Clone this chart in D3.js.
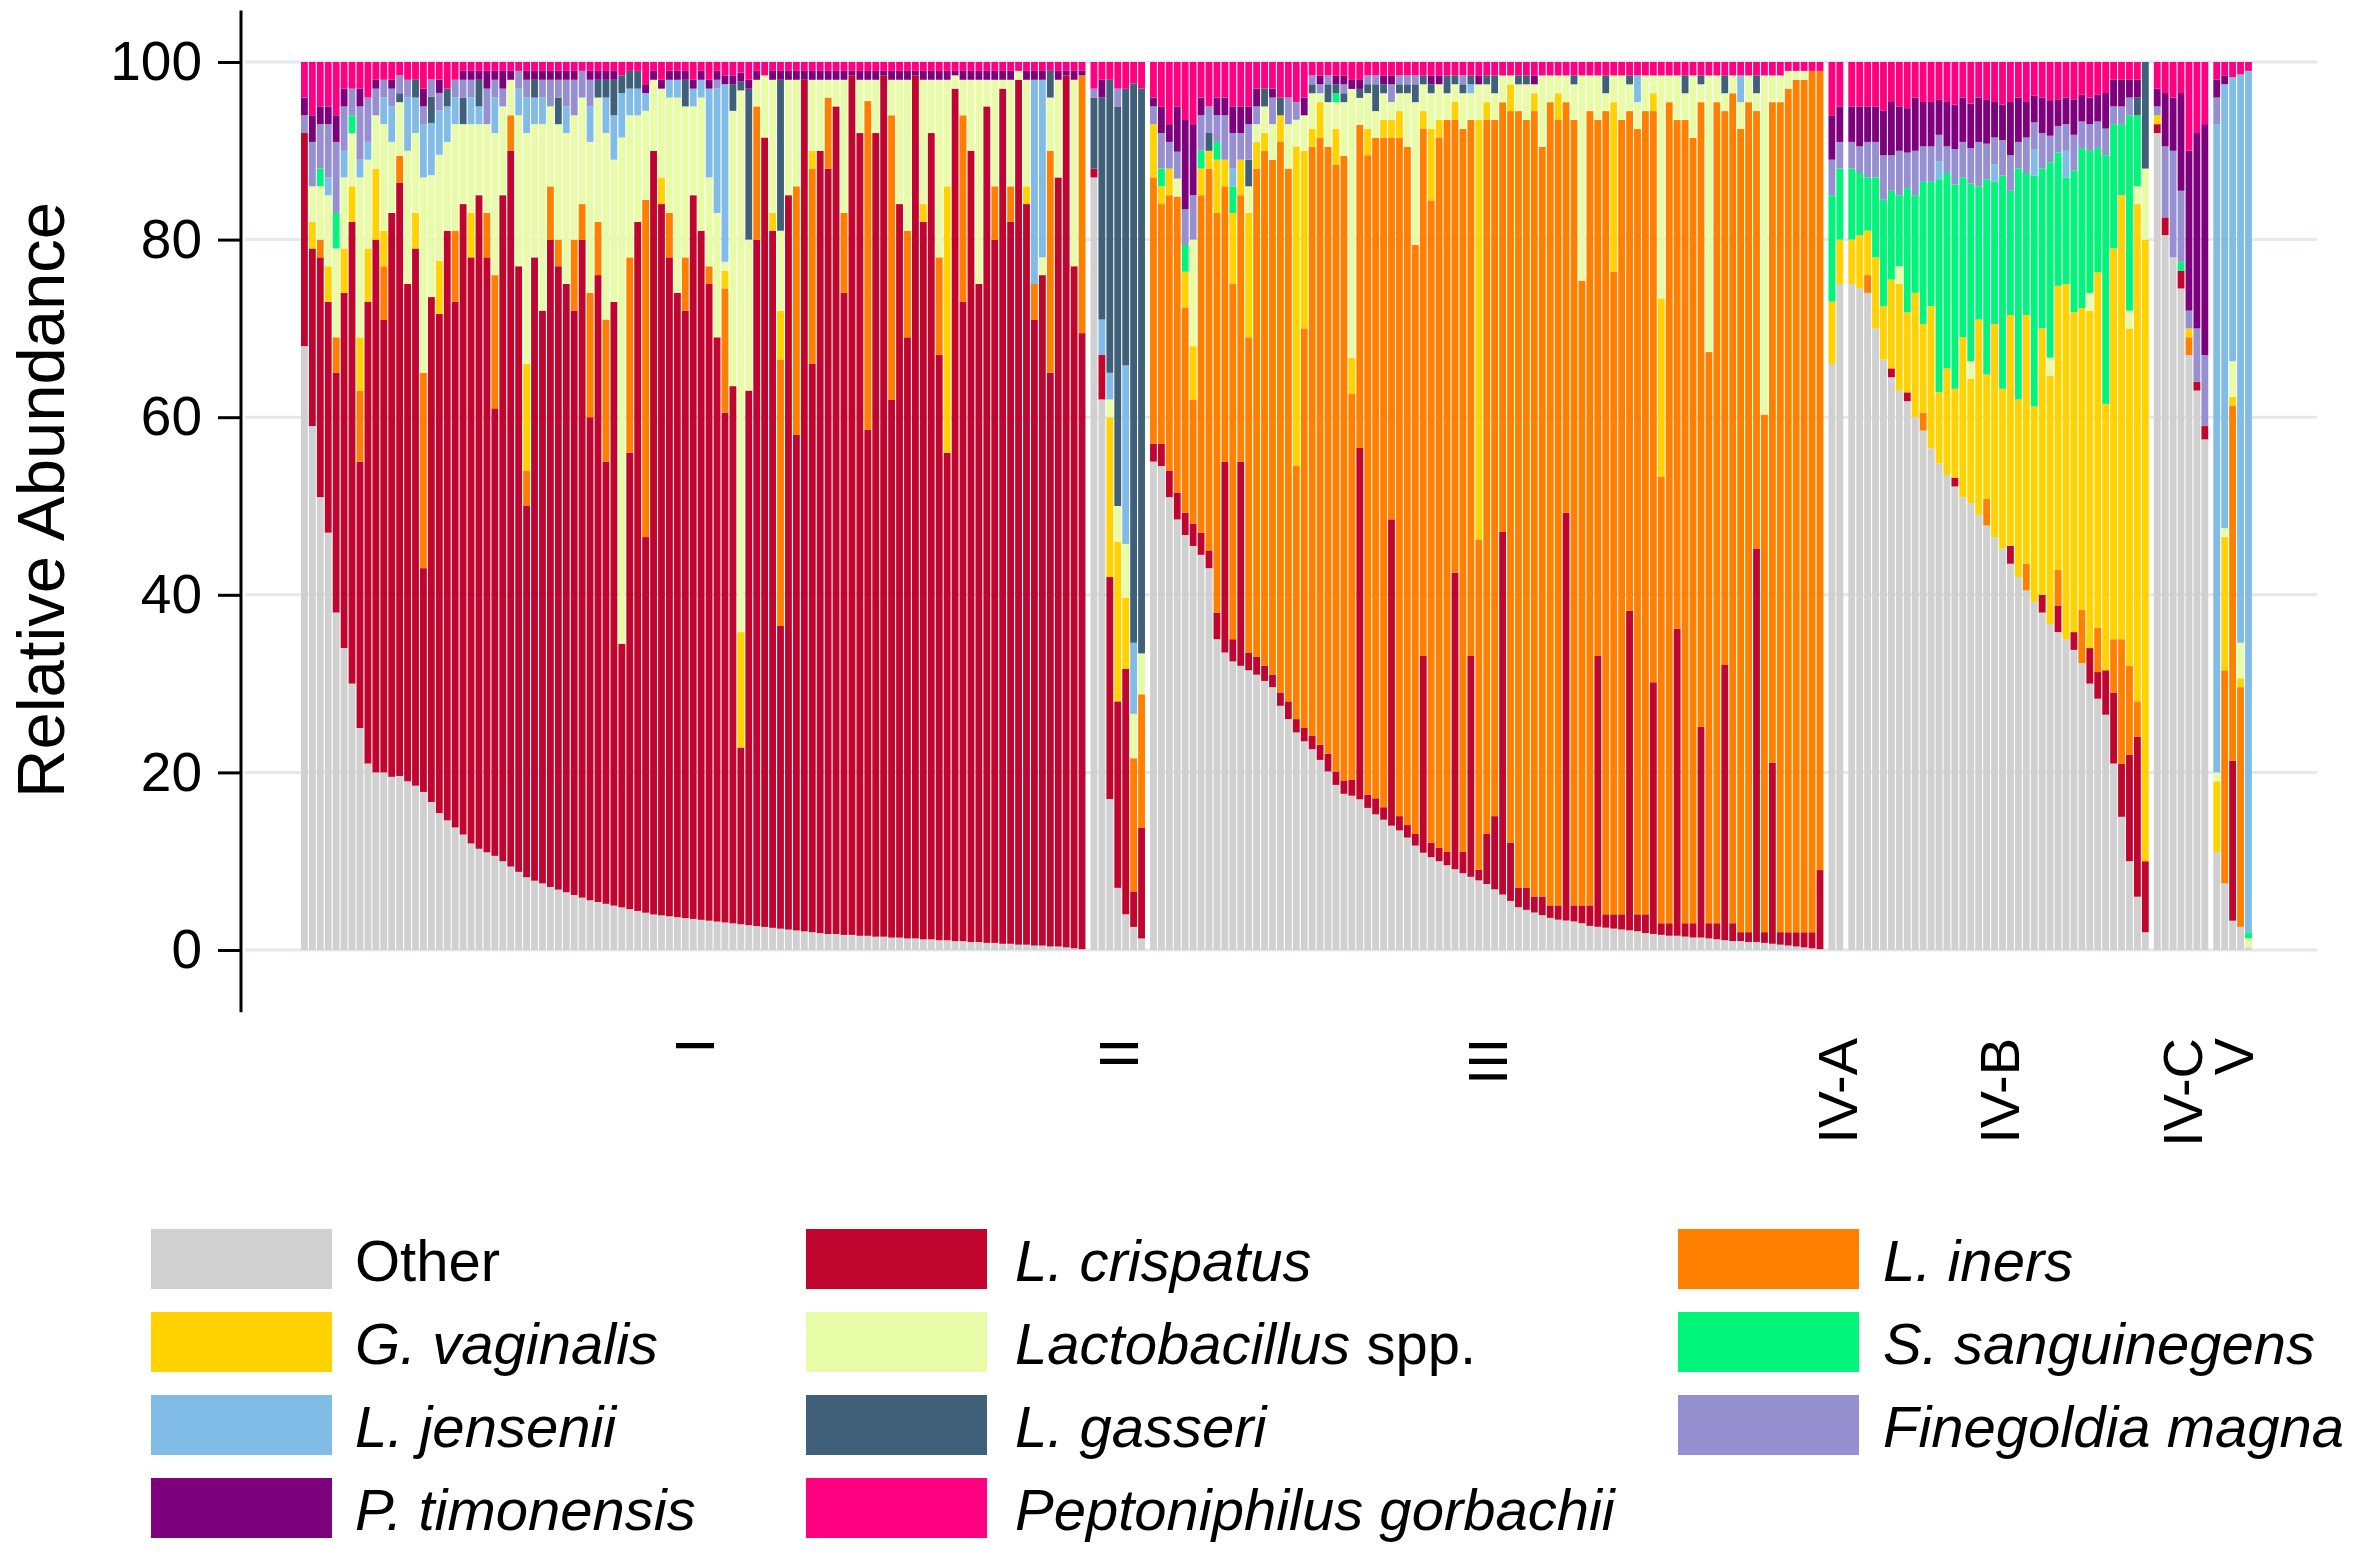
<!DOCTYPE html>
<meta charset="utf-8">
<style>
  html, body { margin: 0; padding: 0; background: #ffffff; }
  body { font-family: 'Liberation Sans', Arial, sans-serif; }
  svg text { font-family: 'Liberation Sans', Arial, sans-serif; fill: #000; }
</style>
<script src="https://d3js.org/d3.v7.min.js"></script>
<div id="chart"></div>
<script>
// stack order, bottom -> top
var speciesKeys = ["oth", "cri", "ine", "gva", "lsp", "ssa", "jen", "gas", "fma", "pti", "pgo"];
var speciesColors = ["#d0d0d0", "#c0062f", "#ff8000", "#ffd200", "#e8fca8", "#00f57a",
                     "#80bce6", "#3f6078", "#968fd0", "#7d007d", "#ff0080"];

// legend: [key, italic part, plain part] listed column by column
var legendCols = [
  [["oth", "", "Other"], ["gva", "G. vaginalis", ""], ["jen", "L. jensenii", ""], ["pti", "P. timonensis", ""]],
  [["cri", "L. crispatus", ""], ["lsp", "Lactobacillus", " spp."], ["gas", "L. gasseri", ""], ["pgo", "Peptoniphilus gorbachii", ""]],
  [["ine", "L. iners", ""], ["ssa", "S. sanguinegens", ""], ["fma", "Finegoldia magna", ""]]
];

var groupNames = ["I", "II", "III", "IV-A", "IV-B", "IV-C", "V"];
var yTicks = [0, 20, 40, 60, 80, 100];

// each row is one sample: oth, cri, ine, gva, lsp, ssa, jen, gas, fma, pti, pgo
var barsI = [
[68,24,0,0,0,0,0,0,2,2,4],[59,20,0,3,4,0,0,0,5,3,6],[51,27,2,0,6,2,0,0,5,2,5],[47,26,0,4,8,0,2,0,6,2,5],
[38,27,4,0,10,4,0,0,8,3,6],[34,40,0,5,8,0,3,0,5,2,3],[30,52,0,4,6,2,0,0,3,0,3],[25,30,8,6,18,0,2,0,6,2,3],
[21,52,0,6,10,0,2,0,5,0,4],[20,60,0,8,6,0,0,0,3,1,2],[20,51,6,4,12,0,3,0,2,0,2],[19.5,63.5,0,0,8,0,4,0,2,1,2],
[19.5,66.5,3,0,6,0,0,1,2,0,1.5],[19,56,0,0,15,0,6,0,2,0,2],[18.5,60.5,0,4,9,0,4,2,0,0,2],[17.8,25.2,22,0,22,0,6,0,2,2,3],
[17,58,0,0,14,0,6,3,2,0,2],[15.5,56.5,0,6,12,0,5,0,2,1.5,2],[14.6,66.4,0,0,10,0,4,2,0,0,3],[13.8,59.2,8,0,12,0,3,0,2,0,2],
[13,71,0,0,9,0,0,3,2,1,1],[12,66,0,5,10,0,3,0,2,1,1],[11.4,73.6,0,0,8,0,2,3,0,1,1],[11,67,5,0,10,0,0,0,4,2,1],
[10.6,50.4,15,0,16,0,4,0,2,1,1],[10,75,0,0,10,0,0,0,2,2,1],[9.4,80.6,4,0,4,0,0,0,0,1,1],[8.8,68.2,0,0,17,0,3,0,2,0,1],
[8.2,41.8,4,12,26,0,4,0,2,1,1],[7.8,70.2,0,0,15,0,3,2,0,1,1],[7.5,64.5,0,0,21,0,3,0,2,1,1],[7.1,72.9,6,0,9,0,0,0,3,1,1],
[6.8,70.2,3,0,13,0,0,3,2,1,1],[6.5,68.5,0,0,17,0,3,0,3,1,1],[6.2,65.8,8,0,14,0,0,0,4,1,1],[5.9,74.1,4,0,12,0,0,0,3,0,1],
[5.6,54.4,14,0,17,0,4,0,3,1,1],[5.4,70.6,6,0,14,0,0,2,0,1,1],[5.2,49.8,16,0,21,0,4,2,0,1,1],[5,68,0,0,16,0,5,4,0,1,1],
[4.8,29.7,0,0,57,0,5,2,0,0,1.5],[4.6,51.4,22,0,16,0,3,2,0,0,1],[4.4,77.6,0,0,12,0,3,2,0,0,1],[4.2,42.3,38,0,10,0,2,0,0,1,2.5],
[4,86,0,0,8,0,0,0,0,1,1],[3.9,80.1,0,3,10,0,0,0,0,1,2],[3.8,74.2,5,0,13,0,2,0,0,1,1],[3.7,70.3,0,0,22,0,2,0,0,1,1],
[3.6,68.4,6,0,17,0,0,3,0,1,1],[3.5,81.5,0,0,10,0,2,0,0,1,2],[3.4,77.6,0,0,15,0,2,0,0,1,1],[3.3,71.7,2,0,10,0,10,0,0,1,2],
[3.2,65.8,0,0,14,0,14,0,1,1,1],[3.1,57.4,14,2,1,0,20,0,0,1,1.5],[3,60.5,0,0,31,0,0,3,0,1,1.5],[2.9,19.9,0,13,61,0,0,1,0,1,1.2],
[2.8,60.2,0,0,17,0,0,17,0,1,2],[2.7,77.3,15,0,3,0,0,0,0,1,1],[2.6,88.9,0,0,7,0,0,0,0,0,1.5],[2.5,78.5,0,2,15,0,0,0,0,1,1],
[2.4,34.1,30,5.5,9,0,0,17,0,1,1],[2.3,82.7,0,0,13,0,0,0,0,1,1],[2.2,55.8,28,0,12,0,0,0,0,1,1],[2.1,95.9,0,0,0,0,0,0,0,1,1],
[2,64,22,2,8,0,0,0,0,1,1],[1.9,88.1,0,0,8,0,0,0,0,1,1],[1.8,86.2,8,0,2,0,0,0,0,1,1],[1.8,93.2,0,0,3,0,0,0,0,1,1],
[1.7,72.3,9,0,15,0,0,0,0,1,1],[1.7,96.8,0,0,0,0,0,0,0,0.5,1],[1.6,90.4,0,0,6,0,0,0,0,1,1],[1.6,57,37,0,2.4,0,0,0,0,1,1],
[1.5,90.5,0,0,6,0,0,0,0,1,1],[1.5,97,0,0,0,0,0,0,0,0.5,1],[1.4,60.6,32,0,4,0,0,0,0,1,1],[1.4,82.6,0,0,14,0,0,0,0,1,1],
[1.3,67.7,12,0,17,0,0,0,0,1,1],[1.3,97.2,0,0,0,0,0,0,0,0.5,1],[1.2,80.8,0,2,14,0,0,0,0,1,1],[1.2,90.8,0,0,6,0,0,0,0,1,1],
[1.1,65.9,11,0,20,0,0,0,0,1,1],[1.1,54.9,0,30,12,0,0,0,0,1,1],[1,96,0,0,1.5,0,0,0,0,0.5,1],[1,72,21,0,4,0,0,0,0,1,1],
[0.9,89.1,0,0,8,0,0,0,0,1,1],[0.9,74.1,0,0,23,0,0,0,0,1,1],[0.8,94.2,0,0,3,0,0,0,0,1,1],[0.8,79.2,6,0,12,0,0,0,0,1,1],
[0.7,96.3,0,0,1,0,0,0,0,1,1],[0.7,81.3,4,0,12,0,0,0,0,1,1],[0.6,97.4,0,0,1,0,0,0,0,0,1],[0.6,83.4,0,2,12,0,0,0,0,1,1],
[0.5,70.5,4,0,0,0,23,0,0,1,1],[0.5,75.5,0,0,2,0,20,0,0,1,1],[0.4,64.6,25,0,6,0,0,3,0,0,1],[0.4,86.6,0,0,11,0,0,0,0,1,1],
[0.3,98.2,0,0,0,0,0,0,0,0.5,1],[0.2,76.8,0,0,21,0,0,0,0,1,1],[0.1,69.3,29,0,0,0,0,0,0,0.5,1]
];

var barsII = [
[87,1,0,0,0,0,0,8,1,0,3],[62,5,0,0,0,0,4,25,0,2,2],[17,25,0,18,2,0,3,33,0,0,2],[7,21,0,18,4,0,0,45,2,0,3],
[4,27.5,0,8,6,0,20,31,0,0,3],[2.6,4,15,0,5,0,8,63,0,0,2.4],[1.3,12.5,15,0,4.6,0,0,63.6,0,0,3]
];

var barsIII = [
[55,2,30,6,0,0,0,0,2,1,4],[54.5,2.5,27,2,0,2,0,0,4,3,5],[51,3,31,3,0,0,0,0,3,2,7],[48,3,33,0,2,0,0,0,3,5,5],
[46.5,2.5,23,4,0,3,0,0,4,10,6.5],[45.5,2.5,14,6,12,0,0,0,5,8,7],[44.5,2.5,38,3,0,2,0,0,4,2,4],[43,2,43,2,0,0,0,2,3,0,5],
[35,3,45,6,0,2,0,0,3,2,4],[33.5,21.5,31,3,0,0,0,0,5,2,4],[32.5,2.5,40,8,0,3,2,0,4,3,5],[32,23,30,4,0,0,0,0,3,3,5],
[31.5,2,35.5,14,3,0,0,3,4,2,5],[31,2,55,3,2,0,0,0,2,2,3],[30.3,1.7,58,2,3,0,0,2,0,0,3],[29.6,1.4,58,0,4,0,0,0,3,1,3],
[27.5,1.5,62,3,0,0,0,2,0,0,4],[26,2,60,0,5,0,0,0,3,0,4],[24.5,1.5,28.5,36,3,0,0,0,2,0,4.5],[23.5,1.5,45,20,4,0,0,0,0,2,4],
[22.5,1.5,66,2,4,0,0,1,1,0,1.5],[21.3,1.7,68,4,1,0,0,0,1,1,1.5],[20,2,68,0,5,0,0,2,1,0,1.5],[18.5,1.5,68,4,3,1,0,1,0,1,1.5],
[17.5,1.5,70,0,6,0,0,1,1,1,1.5],[17.2,1.8,43,4,30,0,0,0,0,1,2],[16.8,39.2,36,0,3,0,0,1,0,1,2],[16,1.5,72,3,4,0,0,1,1,0,1.5],
[15.2,1.8,74,0,3,0,0,3,1,0,1.5],[14.6,1.4,75,2,3,0,0,1,0,1,1.5],[14,34.5,43,2,2,0,0,0,2,1,1.5],[13.4,1.6,76,3,2,0,0,1,1,0,1.5],
[12.6,1.4,76,0,6,0,0,1,1,0,1.5],[11.7,1.3,66,0,16,0,0,2,1,0,1.5],[10.9,22.1,59,2,3,0,0,1,0,0,1.5],[10.4,1.6,72,8,4,0,0,1,0,1,1.5],
[10,1.5,80,2,4,0,0,0,0,1,1.5],[9.5,1.5,82,0,3,0,0,2,0,0,1.5],[9.1,33.4,51,2,2,0,0,1,0,0,1.5],[8.6,2.4,81,0,4,0,0,1,1,0,1.5],
[8.2,24.8,60,0,3,0,1,1,0,0,1.5],[7.8,1.2,37,47,4,0,0,0,0,1,1.5],[7.4,5.6,80,2,2,0,0,1,0,0,1.5],[6.8,8.2,78,0,3,0,0,2,0,0,1.5],
[6.2,40.6,48,0,3,0,0,0,0,0,1.5],[5.5,6.5,82,3,1,0,0,0,0,0,1.5],[4.8,2.2,87,0,3,0,0,1,0,0,1.5],[4.5,2.5,86,0,4,0,0,1,0,0,1.5],
[4.2,1.8,88,2,1,0,0,0,0,1,1.5],[3.9,2.1,84,0,8,0,0,0,0,0,1.5],[3.6,1.4,90,0,3,0,0,0,0,0,1.5],[3.4,1.6,88,3,2,0,0,0,0,0,1.5],
[3.3,45.7,46,0,3,0,0,0,0,0,1.5],[3.2,1.8,88,0,4,0,0,1,0,0,1.5],[3,2,70,0,23,0,0,0,0,0,1.5],[2.7,2.3,89,0,4,0,0,0,0,0,1.5],
[2.6,30.4,60,0,5,0,0,0,0,0,1.5],[2.5,1.5,90,0,2,0,0,2,0,0,1.5],[2.4,1.6,72,19,3,0,0,0,0,0,1.5],[2.3,1.7,89,0,5,0,0,0,0,0,1.5],
[2.2,35.8,56,0,3,0,0,1,0,0,1.5],[2.1,1.9,88,0,3,0,3,0,0,0,1.5],[1.9,2.1,90,0,4,0,0,0,0,0,1.5],[1.8,28.2,64,2,2,0,0,0,0,0,1.5],
[1.7,1.3,50,20,25,0,0,0,0,0,1.5],[1.6,1.4,92,0,3,0,0,0,0,0,1.5],[1.6,34.4,57,0,5,0,0,0,0,0,1.5],[1.5,1.5,90,0,3,0,0,2,0,0,1.5],
[1.4,1.6,88,0,7,0,0,0,0,0,1.5],[1.4,23.6,70,0,2,0,0,1,0,0,1.5],[1.3,1.7,64,0,31,0,0,0,0,0,1.5],[1.2,1.8,92,0,3,0,0,0,0,0,1.5],
[1.1,30.9,62,0,2,0,0,2,0,0,1.5],[1,2,93,0,2,0,0,0,0,0,1.5],[1,1,90,0,3,0,3,0,0,0,1.5],[0.9,1.1,93,0,3,0,0,0,0,0,1.5],
[0.9,44.1,49,0,2,0,0,2,0,0,1.5],[0.8,1.2,58,0,38,0,0,0,0,0,1.5],[0.7,20.3,74,0,3,0,0,0,0,0,1.5],[0.6,1.4,93,0,3,0,0,0,0,0,1.5],
[0.5,1.5,95,0,2,0,0,0,0,0,1],[0.4,1.6,96,0,1,0,0,0,0,0,1],[0.3,1.7,96,0,1,0,0,0,0,0,1],[0.2,1.8,97,0,0,0,0,0,0,0,1],
[0.1,8.9,90,0,0,0,0,0,0,0,1]
];

var barsIVA = [
[66,0,0,7,0,12,0,0,4,5,6],[75,0,0,5,0,8,0,0,3,4,5]
];

var barsIVB = [
[75,0,0,5,0,8,0,0,3,4,5],[74.5,0,0,6,0,7,0,0,3,4.5,5],[74,0,2,5,0,6,0,0,4,4,5],[70,0,0,8,0,9,0,0,4,4,5],
[66.5,0,0,6,0,12,0,0,5,5,5.5],[64.5,1,0,10,0,10,0,0,4,6,4.5],[63,0,0,12,2,8,0,0,5,5,5],[61.8,1,0,9,0,14,0,0,4,5,5.2],
[60,0,0,14,0,11,0,0,5,6,4],[58.5,0,2,10,0,16,0,0,4,5,4.5],[56.5,0,0,16,0,14,0,0,4,5,4.5],[54.8,0,0,8,0,24,2,0,3,4,4.2],
[53.5,0,0,12,0,22,0,0,3,5,4.5],[52.2,1,0,10,0,23,0,0,4,5,4.8],[51,0,0,18,0,18,0,0,4,5,4],[50.3,0,0,14,2,20,0,0,4,5,4.7],
[49,0,0,22,0,15,0,0,5,5,4],[47.8,0,3,14,0,22,0,0,4,5,4.2],[46.5,0,0,24,0,16,2,0,3,4,4.5],[45.2,0,0,18,0,24,0,0,4,4,4.8],
[43.5,2,0,26,0,14,0,0,4,6,4.5],[42,0,0,20,0,26,0,0,3,5,4],[40.5,0,3,28,0,16,0,0,4,4,4.5],[39.2,0,0,22,0,26,3,0,3,3,3.8],
[38,2,0,30,0,18,0,0,4,4,4],[36.7,0,0,28,2,22,0,0,3,4,4.3],[35.8,3,4,32,0,15,0,0,3,3,4.2],[35,0,0,40,0,12,3,0,3,3,4],
[33.8,2,0,36,0,16,0,0,4,4,4.2],[32.3,0,6,34,0,18,0,0,3,3,3.7],[30,4,0,38,2,16,0,0,3,3,4],[28.3,3,5,40,0,14,0,0,3,3,3.7],
[26.5,5,0,30,0,28,0,0,3,4,3.5],[21,8,6,44,0,14,0,0,2,3,2],[15,6,14,50,0,8,0,0,2,3,2],[10,12,10,38,2,22,0,0,2,2,2],
[6,18,4,56,2,8,0,2,0,2,2],[2,8,0,70,8,0,0,12,0,0,0]
];

var barsIVC = [
[92,1,0,1,0,0,0,0,1,2,3],[80.5,2,0,0,0,0,0,0,8,6,3.5],[78,0,0,0,0,0,0,0,12,6,4],[74.5,2,0,0,0,1,0,0,8,11,3.5],
[67,0,2,1,0,0,0,0,2,18,10],[63,1,0,0,0,0,0,0,6,22,8],[57.5,1.5,0,0,0,0,0,0,8,26,7]
];

var barsV = [
[11,0,0,8,1,0,73,0,3,2,2],[7.5,0,24,15,1,0,50,0,0,1,1.5],[3.3,18,40,1,4,0,32,0,0,0,1.7],
[2.6,0,27,1,4,0,64,0,0,0,1.4],[0.3,0,0,0,1,0.7,97,0,0,0,1]
];

var groupRows = [barsI, barsII, barsIII, barsIVA, barsIVB, barsIVC, barsV];

var width = 2362, height = 1568;
var gapUnits = 0.5;   // white gap between cluster groups, in bar widths

var svg = d3.select("#chart").append("svg")
  .attr("width", width)
  .attr("height", height)
  .style("display", "block");

// lay bars out one after the other, with a small gap between groups
var bars = [], groups = [], pos = 0;
groupRows.forEach(function(rows, gi) {
  if (gi > 0) pos += gapUnits;
  var g = { name: groupNames[gi], start: pos };
  rows.forEach(function(r) {
    bars.push({ group: gi, pos: pos, values: r });
    pos += 1;
  });
  g.end = pos;
  groups.push(g);
});

var x = d3.scaleLinear().domain([0, pos]).range([301, 2253]);
var y = d3.scaleLinear().domain([0, 100]).range([950, 62]);
var yFrac = d3.scaleLinear().domain([0, 1]).range([950, 62]);
var color = d3.scaleOrdinal().domain(speciesKeys).range(speciesColors);

// gridlines
svg.append("g")
  .selectAll("line")
  .data(yTicks)
  .enter().append("line")
    .attr("x1", 245)
    .attr("x2", 2317)
    .attr("y1", function(d) { return y(d); })
    .attr("y2", function(d) { return y(d); })
    .style("stroke", "#e2e9ed")
    .style("stroke-width", 3);

// stacked bars, each sample expanded to 100%
var stack = d3.stack()
  .keys(d3.range(speciesKeys.length))
  .value(function(d, k) { return d.values[k]; })
  .offset(d3.stackOffsetExpand);

var layers = stack(bars);
var barW = x(1) - x(0) - 1.1;

svg.append("g")
  .selectAll("g")
  .data(layers)
  .enter().append("g")
    .style("fill", function(d) { return color(speciesKeys[d.key]); })
  .selectAll("rect")
  .data(function(d) { return d; })
  .enter().append("rect")
    .attr("x", function(d) { return x(d.data.pos); })
    .attr("width", barW)
    .attr("y", function(d) { return yFrac(d[1]); })
    .attr("height", function(d) { return Math.max(0, yFrac(d[0]) - yFrac(d[1])); });

// y axis
var yAxis = d3.axisLeft(y)
  .tickValues(yTicks)
  .tickSize(23)
  .tickPadding(16);

var gy = svg.append("g")
  .attr("transform", "translate(241,0)")
  .call(yAxis);
gy.select(".domain").remove();
gy.selectAll(".tick line").style("stroke", "#000").style("stroke-width", 3);
gy.selectAll(".tick text")
  .style("font-size", "55px")
  .style("font-family", "'Liberation Sans', Arial, sans-serif")
  .style("fill", "#000");

svg.append("line")
  .attr("x1", 241).attr("x2", 241)
  .attr("y1", y(105.8)).attr("y2", y(-7))
  .style("stroke", "#000")
  .style("stroke-width", 3);

svg.append("text")
  .attr("transform", "translate(64,500) rotate(-90)")
  .attr("text-anchor", "middle")
  .style("font-size", "67px")
  .text("Relative Abundance");

// group labels, rotated
svg.append("g")
  .selectAll("text")
  .data(groups)
  .enter().append("text")
    .attr("transform", function(d) {
      return "translate(" + x((d.start + d.end) / 2) + ",1038) rotate(-90)";
    })
    .attr("text-anchor", "end")
    .attr("dy", "0.36em")
    .style("font-size", "56px")
    .text(function(d) { return d.name; });

// legend
var colSwatchX = [151, 806, 1678],
    colTextX = [355, 1015, 1883],
    rowTop = 1229, rowStep = 83;

legendCols.forEach(function(col, ci) {
  var items = svg.append("g")
    .selectAll("g")
    .data(col)
    .enter().append("g")
      .attr("transform", function(d, i) { return "translate(0," + (rowTop + i * rowStep) + ")"; });

  items.append("rect")
    .attr("x", colSwatchX[ci])
    .attr("width", 181)
    .attr("height", 60)
    .style("fill", function(d) { return color(d[0]); });

  var t = items.append("text")
    .attr("x", colTextX[ci])
    .attr("y", 52)
    .style("font-size", "58px");
  t.append("tspan")
    .style("font-style", "italic")
    .text(function(d) { return d[1]; });
  t.append("tspan")
    .text(function(d) { return d[2]; });
});
</script>
